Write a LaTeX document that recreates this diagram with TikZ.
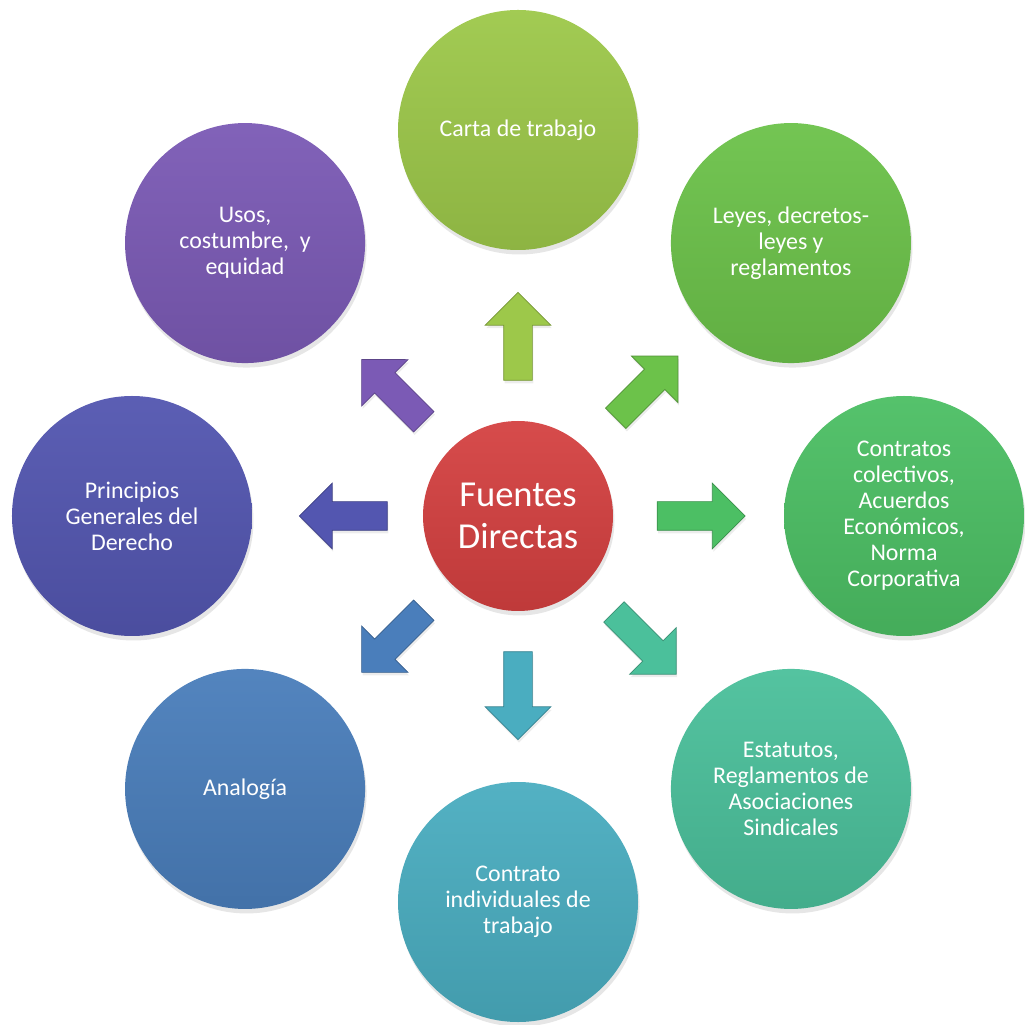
\documentclass[tikz,border=0pt]{standalone}
\usepackage{fontspec}
\setmainfont{Carlito}
\usepackage{tikz}
\usetikzlibrary{shapes.arrows, shadows}

\definecolor{redFD}{RGB}{212,64,64}
\definecolor{cCarta}{RGB}{157,200,74}
\definecolor{cLeyes}{RGB}{108,194,74}
\definecolor{cContr}{RGB}{76,191,100}
\definecolor{cEstat}{RGB}{75,192,155}
\definecolor{cIndiv}{RGB}{74,173,192}
\definecolor{cAnalo}{RGB}{74,126,187}
\definecolor{cPrinc}{RGB}{83,86,176}
\definecolor{cUsos}{RGB}{123,90,181}

\begin{document}
\begin{tikzpicture}[
		outer/.style={circle, minimum size=4.8cm, inner sep=0pt, align=center, text=white,
			font=\fontsize{13.6}{14.8}\selectfont,
			drop shadow={opacity=0.2, shadow xshift=0.03cm, shadow yshift=-0.09cm}},
		hub/.style={circle, minimum size=3.8cm, inner sep=0pt, align=center, text=white,
			font=\fontsize{20.8}{23.8}\selectfont,
			drop shadow={opacity=0.2, shadow xshift=0.03cm, shadow yshift=-0.09cm}},
		blk/.style={single arrow, minimum height=1.76cm, minimum width=1.3cm,
			single arrow head extend=0.37cm, inner xsep=0pt, inner ysep=0.28cm, line width=0.4pt,
			drop shadow={opacity=0.15, shadow xshift=0.02cm, shadow yshift=-0.06cm}}
	]
		\useasboundingbox (-10.36,-10.18) rectangle (10.14,10.32);

		% Centre
		\node[hub, top color=redFD!94!white, bottom color=redFD!90!black] (fd) at (0, 0) {Fuentes\\Directas};

		% Carta de trabajo
		\node[blk, rotate=90, fill=cCarta, draw=cCarta!75!black] (aCarta) at (90:3.45) {};
		\node[outer, top color=cCarta!95!white, bottom color=cCarta!90!black] (carta) at (90:7.72) {Carta de trabajo};

		% Leyes
		\node[blk, rotate=45, fill=cLeyes, draw=cLeyes!75!black] (aLeyes) at (45:3.5) {};
		\node[outer, top color=cLeyes!95!white, bottom color=cLeyes!90!black] (leyes) at (45:7.72) {Leyes, decretos-\\leyes y\\reglamentos};

		% Contratos colectivos
		\node[blk, rotate=0, fill=cContr, draw=cContr!75!black] (aContr) at (0:3.52) {};
		\node[outer, top color=cContr!95!white, bottom color=cContr!90!black] (contr) at (0:7.72) {Contratos\\colectivos,\\Acuerdos\\Económicos,\\Norma\\Corporativa};

		% Estatutos
		\node[blk, rotate=-45, fill=cEstat, draw=cEstat!75!black] (aEstat) at (-45:3.45) {};
		\node[outer, top color=cEstat!95!white, bottom color=cEstat!90!black] (estat) at (-45:7.72) {Estatutos,\\Reglamentos de\\Asociaciones\\Sindicales};

		% Contrato individuales
		\node[blk, rotate=-90, fill=cIndiv, draw=cIndiv!75!black] (aIndiv) at (-90:3.45) {};
		\node[outer, top color=cIndiv!95!white, bottom color=cIndiv!90!black] (indiv) at (-90:7.72) {Contrato\\individuales de\\trabajo};

		% Analogia
		\node[blk, rotate=-135, fill=cAnalo, draw=cAnalo!75!black] (aAnalo) at (-135:3.4) {};
		\node[outer, top color=cAnalo!95!white, bottom color=cAnalo!90!black] (analo) at (-135:7.72) {Analogía};

		% Principios
		\node[blk, rotate=180, fill=cPrinc, draw=cPrinc!75!black] (aPrinc) at (180:3.35) {};
		\node[outer, top color=cPrinc!95!white, bottom color=cPrinc!90!black] (princ) at (180:7.72) {Principios\\Generales del\\Derecho};

		% Usos
		\node[blk, rotate=135, fill=cUsos, draw=cUsos!75!black] (aUsos) at (135:3.4) {};
		\node[outer, top color=cUsos!95!white, bottom color=cUsos!90!black] (usos) at (135:7.72) {Usos,\\costumbre,~ y\\equidad};
	\end{tikzpicture}
\end{document}
